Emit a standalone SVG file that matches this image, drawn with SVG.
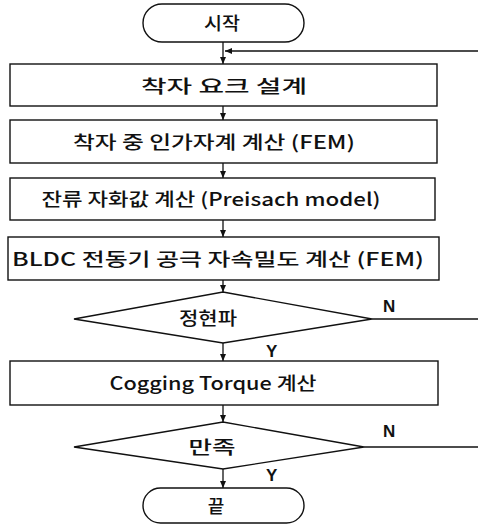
<svg xmlns="http://www.w3.org/2000/svg" width="478" height="527" viewBox="0 0 478 527">
<defs>
<marker id="ah" markerWidth="8" markerHeight="8" refX="7" refY="4" orient="auto" markerUnits="userSpaceOnUse">
<path d="M0,1 L7,4 L0,7 Z" fill="#111"/>
</marker>
<style>
.shape{fill:#fff;stroke:#111;stroke-width:1.4}
.conn{fill:none;stroke:#111;stroke-width:1.3}
.t{font-family:"Noto Sans CJK KR","Noto Sans",sans-serif;font-size:18px;font-weight:500;fill:#111;text-anchor:middle}
.l{font-family:"Liberation Sans",Arial,sans-serif;font-size:17px;font-weight:bold;fill:#111}
</style>
</defs>
<rect width="478" height="527" fill="#fff"/>
<g id="connectors">
<line class="conn" x1="223" y1="42" x2="223" y2="64" marker-end="url(#ah)"/>
<polyline class="conn" points="478,51 225,51" marker-end="url(#ah)"/>
<line class="conn" x1="223" y1="106" x2="223" y2="120" marker-end="url(#ah)"/>
<line class="conn" x1="223" y1="163" x2="223" y2="178" marker-end="url(#ah)"/>
<line class="conn" x1="223" y1="220" x2="223" y2="237" marker-end="url(#ah)"/>
<line class="conn" x1="223" y1="280" x2="223" y2="292" marker-end="url(#ah)"/>
<line class="conn" x1="223" y1="343" x2="223" y2="361" marker-end="url(#ah)"/>
<line class="conn" x1="223" y1="405" x2="223" y2="422" marker-end="url(#ah)"/>
<line class="conn" x1="223" y1="469" x2="223" y2="488" marker-end="url(#ah)"/>
<line class="conn" x1="372" y1="319" x2="478" y2="319"/>
<line class="conn" x1="364" y1="447" x2="478" y2="447"/>
</g>
<g id="start">
<rect class="shape" x="143" y="4" width="161" height="38" rx="19"/>
<text class="t" x="222" y="30" textLength="36" lengthAdjust="spacingAndGlyphs">시작</text>
</g>
<g id="box1">
<rect class="shape" x="10" y="64" width="427" height="42"/>
<text class="t" x="224" y="93" textLength="166" lengthAdjust="spacingAndGlyphs">착자 요크 설계</text>
</g>
<g id="box2">
<rect class="shape" x="10" y="120" width="427" height="43"/>
<text class="t" x="214" y="149" textLength="282" lengthAdjust="spacingAndGlyphs">착자 중 인가자계 계산 (FEM)</text>
</g>
<g id="box3">
<rect class="shape" x="10" y="178" width="425" height="42"/>
<text class="t" x="211" y="206" textLength="339" lengthAdjust="spacingAndGlyphs">잔류 자화값 계산 (Preisach model)</text>
</g>
<g id="box4">
<rect class="shape" x="8" y="237" width="431" height="43"/>
<text class="t" x="218" y="266" textLength="412" lengthAdjust="spacingAndGlyphs">BLDC 전동기 공극 자속밀도 계산 (FEM)</text>
</g>
<g id="decision1">
<polygon class="shape" points="74,319 223,292 372,319 223,343"/>
<text class="t" x="208" y="325" textLength="58" lengthAdjust="spacingAndGlyphs">정현파</text>
<text class="l" x="383" y="312">N</text>
<text class="l" x="266" y="357">Y</text>
</g>
<g id="box5">
<rect class="shape" x="10" y="361" width="428" height="44"/>
<text class="t" x="213" y="390" textLength="207" lengthAdjust="spacingAndGlyphs">Cogging Torque 계산</text>
</g>
<g id="decision2">
<polygon class="shape" points="74,447 223,422 364,447 223,469"/>
<text class="t" x="212" y="454" textLength="47" lengthAdjust="spacingAndGlyphs">만족</text>
<text class="l" x="383" y="437">N</text>
<text class="l" x="266" y="481">Y</text>
</g>
<g id="end">
<rect class="shape" x="143" y="488" width="161" height="35" rx="17.5"/>
<text class="t" x="216" y="513">끝</text>
</g>
</svg>
